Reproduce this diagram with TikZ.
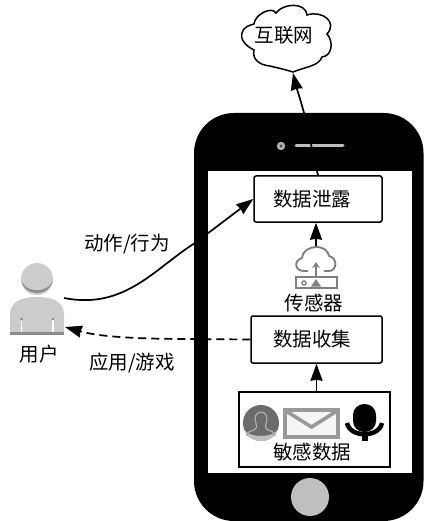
\documentclass[tikz,border=0pt]{standalone}
\usepackage{fontspec}
\setmainfont{Noto Sans CJK SC}[Scale=1]
\usetikzlibrary{arrows.meta,calc}
\definecolor{avatar}{gray}{0.80}
\definecolor{avatarshade}{gray}{0.55}
\definecolor{iconline}{gray}{0.50}
\tikzset{
  lbl/.style={font=\fontsize{19.5}{21}\selectfont,inner sep=0pt,text=black},
  proc/.style={draw=black,line width=1.5pt,rounded corners=2pt,fill=white,inner sep=0pt,
    font=\fontsize{19.5}{21}\selectfont},
  flow/.style={line width=1.7pt,draw=black,-{Stealth[length=17pt,width=12pt,inset=1pt]}},
  back/.style={flow,dash pattern=on 8pt off 5pt}
}
\begin{document}
\begin{tikzpicture}[x=1pt,y=-1pt]
\useasboundingbox (0,0) rectangle (424,521);

% handset body, screen and front-panel details
\fill[black,rounded corners=40pt] (194,113) rectangle (423.5,521);
\fill[white] (208,171) rectangle (412,473);
\fill[black!25] (310,497) circle (19);
\fill[black!30] (281,146) circle (4.2);
\fill[black!70] (281,146) circle (1.6);
\draw[black!25,line width=3pt,line cap=round] (296,146) -- (343,146);

% cloud outline
\draw[line width=1.5pt,fill=white]
  (242,33) .. controls (243,27) and (250,25) .. (254,24)
  .. controls (255,14) and (272,6) .. (276,13)
  .. controls (283,3) and (306,2) .. (307,15)
  .. controls (322,10) and (338,22) .. (327,34)
  .. controls (334,42) and (332,56) .. (322,57)
  .. controls (319,66) and (305,67) .. (293,72)
  .. controls (280,68) and (273,67) .. (270,66)
  .. controls (258,65) and (252,58) .. (254,50)
  .. controls (246,46) and (240,40) .. (242,33) -- cycle;
\node[lbl] (internet) at (284,35) {互联网};
\coordinate (cloudtip) at (293,73);

% processing blocks; their captions sit slightly left of centre
\node[proc,minimum width=128pt,minimum height=46pt] (leak) at (318,199) {数据泄露\hspace*{12pt}};
\node[proc,minimum width=131pt,minimum height=47pt] (collect) at (316.5,339.5) {数据收集\hspace*{9pt}};
\node[draw=black,line width=1.6pt,fill=white,minimum width=151pt,minimum height=75pt,inner sep=0pt] (sensitive) at (314.5,429.5) {};
\node[lbl] (sensitivetext) at (312,452) {敏感数据};

% sensor icon
\coordinate (sensortop) at (316,246);
\draw[iconline,line width=1.9pt,line join=round]
  (308,271) -- (304,271) .. controls (295,271) and (293,261) .. (302,258)
  .. controls (302,251) and (310,247) .. (316,247)
  .. controls (324,247) and (328,251) .. (329,256)
  .. controls (338,258) and (337,271) .. (329,271) -- (324,271);
\draw[iconline,line width=1.8pt,-{Stealth[length=6pt,width=8pt]}] (316,277) -- (316,262);
\draw[iconline,line width=2pt,fill=white] (296,277) rectangle (337,288);
\draw[iconline,line width=1.4pt] (304,283) circle (2);
\fill[iconline] (316,279) -- (321,286.5) -- (311,286.5) -- cycle;
\node[lbl] (sensorlabel) at (314,303.5) {传感器};

% sensitive-data icons: contact, mail, microphone
\fill[black!58] (261,423) circle (18);
\fill[black!25] (244.5,430) .. controls (250,438) and (272,438) .. (277.5,430)
  .. controls (277,436) and (269,441) .. (261,441) .. controls (253,441) and (245,436) .. (244.5,430) -- cycle;
\draw[black!28,line width=1pt,fill=black!58] (261,412) .. controls (267,412) and (268,419) .. (266,423)
  .. controls (265,426) and (265,428) .. (268,430) .. controls (273,431) and (276,434) .. (275,436)
  (247,436) .. controls (246,434) and (249,431) .. (254,430)
  .. controls (257,428) and (257,426) .. (256,423) .. controls (254,419) and (255,412) .. (261,412);
\draw[black!40,line width=3.6pt,fill=black!4] (285,410) rectangle (338,437);
\draw[black!40,line width=3.6pt] (286,411) -- (311.5,427) -- (337,411);
\fill[black,rounded corners=11pt] (353,404) rectangle (376,432);
\draw[black,line width=4.5pt] (347,423) .. controls (350,438) and (379,438) .. (382,423);
\draw[black,line width=6pt] (364.5,434) -- (364.5,441);

% user figure
\fill[avatar] (37,279) circle (16);
\fill[avatarshade] (21.5,281) .. controls (24,297) and (50,297) .. (52.5,281)
  .. controls (48,293.5) and (26,293.5) .. (21.5,281) -- cycle;
\fill[avatar] (10,335) -- (10,315) .. controls (10,302) and (20,297) .. (37,297)
  .. controls (54,297) and (64,302) .. (64,315) -- (64,335) -- cycle;
\fill[black!45] (10,332) rectangle (64,335);
\fill[white] (20.8,320) rectangle (22.2,332);
\fill[white] (52.3,320) rectangle (53.7,332);
\fill[black!45] (21.5,319) circle (1.5);
\fill[black!45] (53,319) circle (1.5);
\node[lbl] (userlabel) at (39,354) {用户};
\coordinate (userhand) at (64,298);
\coordinate (userfoot) at (65,327);

% connectors
\draw[flow] (sensortop) -- (sensortop |- leak.south);
\draw[flow] (collect.south |- sensitive.north) -- (collect.south);
\draw[flow] (leak.north) -- (317,171) -- (304,113) .. controls (300,98) and (296,86) .. (cloudtip);
\draw[flow] (userhand) .. controls (125,310) and (155,268) .. (195,243) -- (leak.west);
\draw[back] (collect.west) -- (190,339) .. controls (140,339) and (100,337) .. (userfoot);
\node[lbl] (actionlabel) at (127,244) {动作/行为};
\node[lbl] (applabel) at (132,363) {应用/游戏};
\end{tikzpicture}
\end{document}
